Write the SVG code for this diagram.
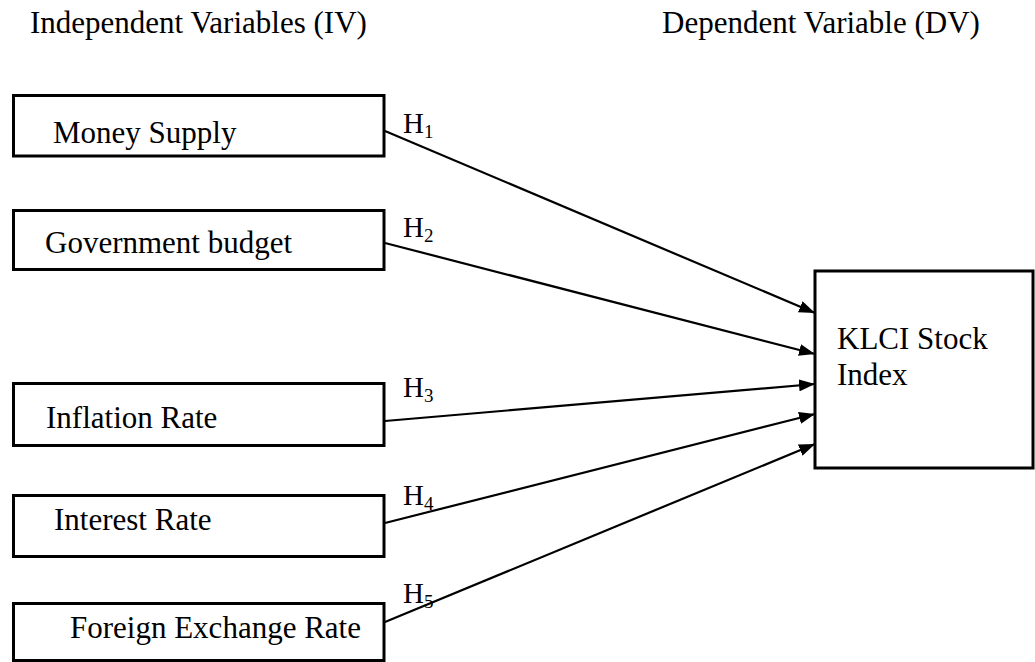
<svg xmlns="http://www.w3.org/2000/svg" width="1035" height="662" viewBox="0 0 1035 662">
<style>
.box{fill:#fff;stroke:#000;stroke-width:3}
.t{font-family:"Liberation Serif","Times New Roman",serif;font-size:31px;fill:#000}
.h{font-family:"Liberation Serif","Times New Roman",serif;font-size:29px;fill:#000}
.s{font-size:19px}
.ln{stroke:#000;stroke-width:2.2;fill:none;marker-end:url(#ah)}
</style>
<defs>
<marker id="ah" viewBox="0 0 16 12" refX="16" refY="6" markerWidth="16" markerHeight="12" markerUnits="userSpaceOnUse" orient="auto">
<path d="M0,0 L16,6 L0,12 Z" fill="#000"/>
</marker>
</defs>
<rect width="1035" height="662" fill="#fff"/>
<text class="t" x="30" y="33">Independent Variables (IV)</text>
<text class="t" x="662" y="33">Dependent Variable (DV)</text>
<g id="connectors">
<line class="ln" x1="385" y1="131" x2="815" y2="313"/>
<line class="ln" x1="385" y1="243" x2="815" y2="354"/>
<line class="ln" x1="385" y1="421" x2="815" y2="384"/>
<line class="ln" x1="385" y1="523" x2="815" y2="414"/>
<line class="ln" x1="385" y1="622" x2="815" y2="444"/>
<text class="h" x="403" y="133">H<tspan class="s" dy="5">1</tspan></text>
<text class="h" x="403" y="237">H<tspan class="s" dy="5">2</tspan></text>
<text class="h" x="403" y="397">H<tspan class="s" dy="5">3</tspan></text>
<text class="h" x="403" y="505">H<tspan class="s" dy="5">4</tspan></text>
<text class="h" x="403" y="603">H<tspan class="s" dy="5">5</tspan></text>
</g>
<g id="money-supply">
<rect class="box" x="13.5" y="95.5" width="370.5" height="60.5"/>
<text class="t" x="53" y="143">Money Supply</text>
</g>
<g id="government-budget">
<rect class="box" x="13.5" y="210.5" width="370.5" height="59"/>
<text class="t" x="45" y="253">Government budget</text>
</g>
<g id="inflation-rate">
<rect class="box" x="13.5" y="383.5" width="370.5" height="62"/>
<text class="t" x="46" y="428">Inflation Rate</text>
</g>
<g id="interest-rate">
<rect class="box" x="13.5" y="495.5" width="370.5" height="61"/>
<text class="t" x="54" y="530">Interest Rate</text>
</g>
<g id="foreign-exchange-rate">
<rect class="box" x="13.5" y="603.5" width="370.5" height="57"/>
<text class="t" x="70" y="638">Foreign Exchange Rate</text>
</g>
<g id="klci">
<rect class="box" x="815" y="271" width="218" height="197"/>
<text class="t" x="837" y="349">KLCI Stock</text>
<text class="t" x="837" y="385">Index</text>
</g>
</svg>
